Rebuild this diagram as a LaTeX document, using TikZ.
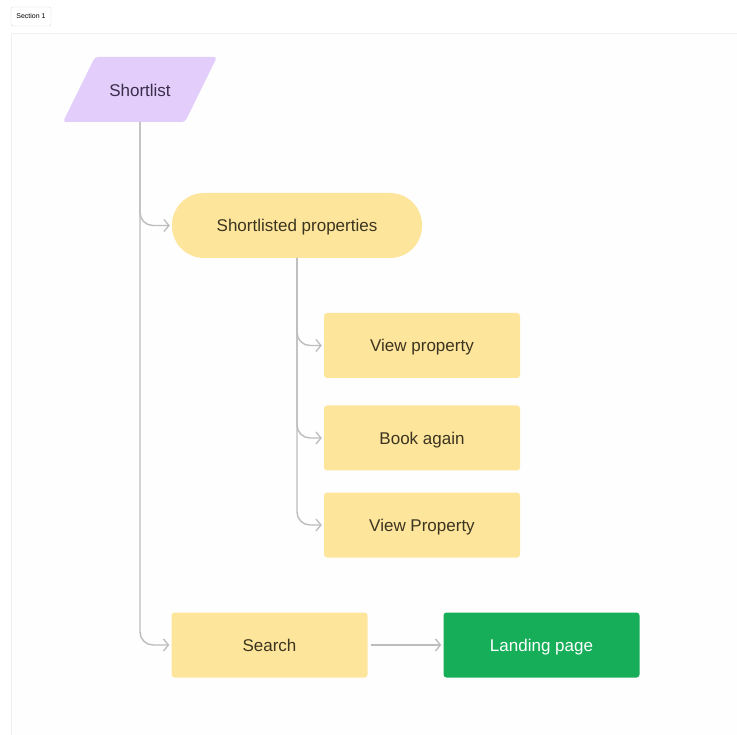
\documentclass[tikz,border=0pt]{standalone}
\usepackage{fontspec}
\setmainfont{Liberation Sans}
\usetikzlibrary{arrows.meta}
\definecolor{ybox}{HTML}{FEE59C}
\definecolor{gbox}{HTML}{17AE5A}
\definecolor{pbox}{HTML}{E3CDFB}
\definecolor{conn}{HTML}{BDBDBD}
\definecolor{ytext}{HTML}{3B3420}
\definecolor{ptext}{HTML}{3A2E4A}
\begin{document}
\begin{tikzpicture}[x=1pt,y=-1pt,
  box/.style={draw=none,rounded corners=3pt,minimum width=196pt,minimum height=65pt,font=\fontsize{17}{20}\selectfont,inner sep=0pt,text height=12.4pt,text depth=0pt},
  ybox/.style={box,fill=ybox,text=ytext},
  link/.style={draw=conn,line width=1.4pt,rounded corners=13pt,-{Straight Barb[length=5pt,width=12pt,line width=1.3pt]}}
]
\useasboundingbox (0,0) rectangle (737,735);
\fill[white] (0,0) rectangle (737,735);
% section frame
\draw[draw=black!6,fill=black!0.5,line width=0.8pt] (11,33) -- (740,33) -- (740,740) -- (11,740) -- cycle;
\node[draw=black!15,fill=white,rounded corners=2pt,minimum width=40pt,minimum height=19pt,inner sep=0pt,font=\fontsize{7}{8}\selectfont] (sec) at (31,16.5) {Section 1};
% shortlist parallelogram
\fill[pbox,rounded corners=3pt] (95,57) -- (217,57) -- (185,122) -- (63,122) -- cycle;
\node[text=ptext,font=\fontsize{17}{20}\selectfont,inner sep=0pt,text height=12.4pt,text depth=0pt] (sl) at (140,90) {Shortlist};
\coordinate (slb) at (140,122);
% nodes
\node[box,fill=ybox,text=ytext,rounded corners=32pt,minimum width=250pt] (sp) at (297,225.5) {Shortlisted properties};
\coordinate (spb) at (297,258);
\node[ybox] (v1) at (422,345.5) {View property};
\node[ybox] (v2) at (422,438) {Book again};
\node[ybox] (v3) at (422,525) {View Property};
\node[ybox] (se) at (269.5,645) {Search};
\node[box,fill=gbox,text=white] (lp) at (541.5,645) {Landing page};
% connectors
\draw[link] (slb) |- ([xshift=-2pt]sp.west);
\draw[link] (slb) |- ([xshift=-2pt]se.west);
\draw[link] (spb) |- ([xshift=-2pt]v1.west);
\draw[link] (spb) |- ([xshift=-2pt]v2.west);
\draw[link] (spb) |- ([xshift=-2pt]v3.west);
\draw[link] ([xshift=3pt]se.east) -- ([xshift=-2pt]lp.west);
\end{tikzpicture}
\end{document}
